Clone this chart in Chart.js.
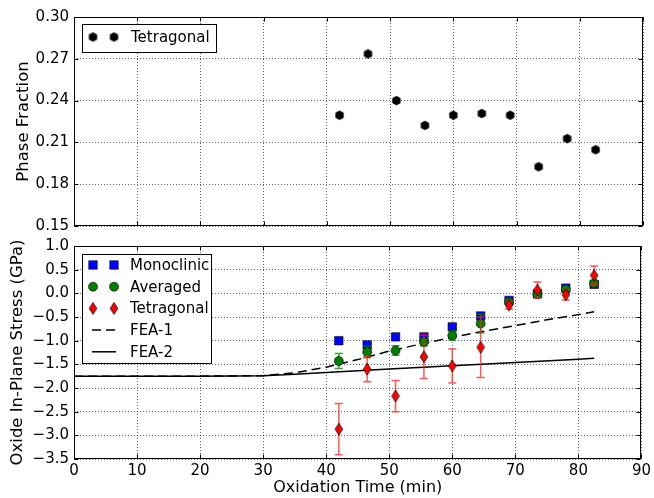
<!DOCTYPE html>
<html>
<head>
<meta charset="utf-8">
<script src="https://cdn.jsdelivr.net/npm/chart.js@4.4.1/dist/chart.umd.min.js"></script>
<style>
  html, body { margin: 0; padding: 0; background: #fff; }
  #wrap { position: relative; width: 654px; height: 498px; }
  #wrap canvas { position: absolute; left: 0; top: 0; }
</style>
</head>
<body>
<div id="wrap">
  <canvas id="topChart" width="654" height="240"></canvas>
  <canvas id="bottomChart" width="654" height="498"></canvas>
</div>
<script>
// ---- data ----
const TIME = [42, 46.5, 51, 55.5, 60, 64.5, 69, 73.5, 78, 82.5];

// top panel: tetragonal phase fraction
const PHASE_TET = [0.2295, 0.2735, 0.240, 0.2222, 0.2295, 0.2307, 0.2295, 0.1925, 0.2127, 0.2047];

// bottom panel: oxide in-plane stress (GPa)
const STRESS_MONO = [-1.00, -1.09, -0.92, -0.92, -0.71, -0.48, -0.15, -0.01, 0.11, 0.19];
const STRESS_AVG = [-1.43, -1.24, -1.21, -1.03, -0.89, -0.64, -0.18, -0.02, 0.085, 0.21];
const STRESS_AVG_ERR = [0.16, 0.12, 0.10, 0.08, 0.10, 0.20, 0.05, 0.05, 0.05, 0.05];
const STRESS_TET = [-2.87, -1.60, -2.17, -1.34, -1.535, -1.14, -0.25, 0.07, -0.03, 0.38];
const STRESS_TET_ERR = [0.54, 0.27, 0.33, 0.46, 0.36, 0.64, 0.08, 0.17, 0.11, 0.20];

const FEA1_X = [0, 10, 20, 30, 35, 40, 45, 50, 55, 60, 65, 70, 75, 80, 82.5];
const FEA1_Y = [-1.75, -1.75, -1.75, -1.74, -1.68, -1.56, -1.40, -1.22, -1.07, -0.93, -0.80, -0.68, -0.56, -0.45, -0.39];
const FEA2_X = [0, 10, 20, 30, 35, 40, 50, 60, 70, 80, 82.5];
const FEA2_Y = [-1.75, -1.75, -1.75, -1.74, -1.71, -1.67, -1.60, -1.53, -1.46, -1.39, -1.37];

// ticks
const X_TICKS = [0, 10, 20, 30, 40, 50, 60, 70, 80, 90];
const TOP_Y_TICKS = [0.15, 0.18, 0.21, 0.24, 0.27, 0.30];
const BOTTOM_Y_TICKS = [-3.5, -3.0, -2.5, -2.0, -1.5, -1.0, -0.5, 0.0, 0.5, 1.0];

const FONT = "'DejaVu Sans', sans-serif";
Chart.defaults.font.family = FONT;
Chart.defaults.color = '#000';

const pts = (xs, ys) => xs.map((x, i) => ({ x, y: ys[i] }));
const minus = s => s.replace('-', '\u2212');

// marker images (matplotlib hexagon and thin diamond)
function makeMarker(w, h, draw) {
  const c = document.createElement('canvas');
  c.width = w; c.height = h;
  draw(c.getContext('2d'));
  return c;
}
const hexMarker = makeMarker(11, 11, g => {
  g.beginPath();
  for (let k = 0; k < 6; k++) {
    const a = Math.PI / 2 + k * Math.PI / 3;
    const px = 5.5 + 4.8 * Math.cos(a), py = 5.5 - 4.8 * Math.sin(a);
    if (k) g.lineTo(px, py); else g.moveTo(px, py);
  }
  g.closePath();
  g.fillStyle = '#000';
  g.fill();
});
const diamondMarker = makeMarker(10, 14, g => {
  g.beginPath();
  g.moveTo(5, 1); g.lineTo(8.8, 7); g.lineTo(5, 13); g.lineTo(1.2, 7);
  g.closePath();
  g.fillStyle = '#ff0000';
  g.fill();
  g.strokeStyle = '#000';
  g.lineWidth = 0.7;
  g.stroke();
});

// outer frame + inward ticks on all four sides
const frameTicks = {
  id: 'frameTicks',
  afterDatasetsDraw(chart) {
    const { ctx, chartArea: a, scales: { x, y } } = chart;
    const L = Math.round(a.left) + 0.5, R = Math.round(a.right) - 0.5;
    const T = Math.round(a.top) + 0.5, B = Math.round(a.bottom) - 0.5;
    ctx.save();
    ctx.strokeStyle = '#000';
    ctx.lineWidth = 1;
    ctx.beginPath();
    x.ticks.forEach(t => {
      const px = Math.round(x.getPixelForValue(t.value)) + 0.5;
      ctx.moveTo(px, B); ctx.lineTo(px, B - 4);
      ctx.moveTo(px, T); ctx.lineTo(px, T + 4);
    });
    y.ticks.forEach(t => {
      const py = Math.round(y.getPixelForValue(t.value)) + 0.5;
      ctx.moveTo(L, py); ctx.lineTo(L + 4, py);
      ctx.moveTo(R, py); ctx.lineTo(R - 4, py);
    });
    ctx.stroke();
    ctx.strokeRect(L, T, R - L, B - T);
    ctx.restore();
  },
};

// vertical error bars drawn just before their dataset's markers
const errorBars = {
  id: 'errorBars',
  beforeDatasetDraw(chart, args) {
    const ds = chart.data.datasets[args.index];
    if (!ds.errors) return;
    const { ctx, scales: { x, y } } = chart;
    ctx.save();
    ctx.strokeStyle = ds.errorColor;
    ctx.lineWidth = 1.5;
    ds.data.forEach((p, i) => {
      const e = ds.errors[i];
      if (!e) return;
      const px = x.getPixelForValue(p.x);
      const y1 = y.getPixelForValue(p.y - e), y2 = y.getPixelForValue(p.y + e);
      ctx.beginPath();
      ctx.moveTo(px, y1); ctx.lineTo(px, y2);
      ctx.moveTo(px - 4, y1); ctx.lineTo(px + 4, y1);
      ctx.moveTo(px - 4, y2); ctx.lineTo(px + 4, y2);
      ctx.stroke();
    });
    ctx.restore();
  },
};

// matplotlib-style boxed legend with two markers per entry
const boxLegend = {
  id: 'boxLegend',
  afterDraw(chart, args, opts) {
    if (!opts.box) return;
    const { ctx } = chart;
    const [x0, y0, x1, y1] = opts.box;
    ctx.save();
    ctx.fillStyle = '#fff';
    ctx.fillRect(x0, y0, x1 - x0, y1 - y0);
    ctx.strokeStyle = '#000';
    ctx.lineWidth = 1;
    ctx.strokeRect(x0 + 0.5, y0 + 0.5, x1 - x0, y1 - y0);
    chart.data.datasets.forEach((ds, i) => {
      const yy = opts.rowY + i * opts.rowStep;
      if (ds.showLine) {
        ctx.strokeStyle = ds.borderColor;
        ctx.lineWidth = ds.borderWidth;
        ctx.setLineDash(ds.borderDash || []);
        ctx.beginPath();
        ctx.moveTo(opts.markX[0] - 1, yy); ctx.lineTo(opts.markX[1] + 2, yy);
        ctx.stroke();
        ctx.setLineDash([]);
      } else {
        opts.markX.forEach(mx => {
          ctx.fillStyle = ds.pointBackgroundColor || '#000';
          ctx.strokeStyle = ds.pointBorderColor || '#000';
          ctx.lineWidth = ds.pointBorderWidth || 0;
          Chart.helpers.drawPoint(ctx, {
            pointStyle: ds.pointStyle, radius: ds.pointRadius,
            rotation: 0, borderWidth: ds.pointBorderWidth || 0,
          }, mx, yy);
        });
      }
      ctx.fillStyle = '#000';
      ctx.font = '15px ' + FONT;
      ctx.textAlign = 'left';
      ctx.textBaseline = 'middle';
      ctx.fillText(ds.label, opts.textX, yy + 1);
    });
    ctx.restore();
  },
};

const gridOpts = { color: 'rgba(0,0,0,0.6)', lineWidth: 1, drawTicks: false };
const setTicks = arr => scale => { scale.ticks = arr.map(v => ({ value: v })); };

function xScale(showLabels, height) {
  return {
    type: 'linear', min: 0, max: 90,
    afterBuildTicks: setTicks(X_TICKS),
    afterFit: s => { s.height = height; },
    grid: gridOpts,
    border: { display: false, dash: [1, 2] },
    ticks: { display: showLabels, font: { size: 15 }, padding: 3, maxRotation: 0 },
    title: showLabels
      ? { display: true, text: 'Oxidation Time (min)', font: { size: 16 }, padding: { top: 0, bottom: 1 } }
      : { display: false },
  };
}

new Chart(document.getElementById('topChart'), {
  type: 'scatter',
  data: {
    datasets: [{
      label: 'Tetragonal',
      data: pts(TIME, PHASE_TET),
      pointStyle: hexMarker,
      pointRadius: 5,
      pointBackgroundColor: '#000',
      pointBorderColor: '#000',
      pointBorderWidth: 0,
    }],
  },
  options: {
    responsive: false,
    animation: false,
    layout: { padding: { top: 17, right: 11, left: 0, bottom: 0 } },
    scales: {
      x: xScale(false, 11),
      y: {
        type: 'linear', min: 0.15, max: 0.30,
        afterBuildTicks: setTicks(TOP_Y_TICKS),
        afterFit: s => { s.width = 74; },
        grid: gridOpts,
        border: { display: false, dash: [1, 2] },
        ticks: { font: { size: 15 }, padding: 5, callback: v => v.toFixed(2) },
        title: { display: true, text: 'Phase Fraction', font: { size: 16.5 }, padding: { top: 14, bottom: 0 } },
      },
    },
    plugins: {
      legend: { display: false },
      tooltip: { enabled: false },
      boxLegend: { box: [82, 24, 216, 52], rowY: 37, rowStep: 0, markX: [93, 114], textX: 131 },
    },
  },
  plugins: [errorBars, frameTicks, boxLegend],
});

new Chart(document.getElementById('bottomChart'), {
  type: 'scatter',
  data: {
    datasets: [
      {
        label: 'Monoclinic',
        data: pts(TIME, STRESS_MONO),
        pointStyle: 'rect', pointRadius: 6,
        pointBackgroundColor: '#0000ff', pointBorderColor: 'rgba(0,0,0,0.75)', pointBorderWidth: 0.8,
        order: 2,
      },
      {
        label: 'Averaged',
        data: pts(TIME, STRESS_AVG),
        errors: STRESS_AVG_ERR, errorColor: 'rgba(0,128,0,0.75)',
        pointStyle: 'circle', pointRadius: 4.5,
        pointBackgroundColor: '#008000', pointBorderColor: 'rgba(0,0,0,0.75)', pointBorderWidth: 0.8,
        order: 1,
      },
      {
        label: 'Tetragonal',
        data: pts(TIME, STRESS_TET),
        errors: STRESS_TET_ERR, errorColor: 'rgba(255,30,30,0.75)',
        pointStyle: diamondMarker, pointRadius: 6,
        pointBackgroundColor: '#ff0000', pointBorderColor: '#000', pointBorderWidth: 0,
        order: 0,
      },
      {
        label: 'FEA-1',
        data: pts(FEA1_X, FEA1_Y),
        showLine: true, borderColor: '#000', borderWidth: 1.5, borderDash: [9, 5],
        pointRadius: 0, tension: 0,
        order: 3,
      },
      {
        label: 'FEA-2',
        data: pts(FEA2_X, FEA2_Y),
        showLine: true, borderColor: '#000', borderWidth: 1.5,
        pointRadius: 0, tension: 0,
        order: 4,
      },
    ],
  },
  options: {
    responsive: false,
    animation: false,
    layout: { padding: { top: 246, right: 11, left: 0, bottom: 0 } },
    scales: {
      x: xScale(true, 39),
      y: {
        type: 'linear', min: -3.5, max: 1.0,
        afterBuildTicks: setTicks(BOTTOM_Y_TICKS),
        afterFit: s => { s.width = 74; },
        grid: gridOpts,
        border: { display: false, dash: [1, 2] },
        ticks: { font: { size: 15 }, padding: 5, callback: v => minus(v.toFixed(1)) },
        title: { display: true, text: 'Oxide In-Plane Stress (GPa)', font: { size: 16.5 }, padding: { top: 8, bottom: 0 } },
      },
    },
    plugins: {
      legend: { display: false },
      tooltip: { enabled: false },
      boxLegend: { box: [82, 254, 211, 363], rowY: 265, rowStep: 21.7, markX: [93, 114], textX: 130 },
    },
  },
  plugins: [errorBars, frameTicks, boxLegend],
});
</script>
</body>
</html>
